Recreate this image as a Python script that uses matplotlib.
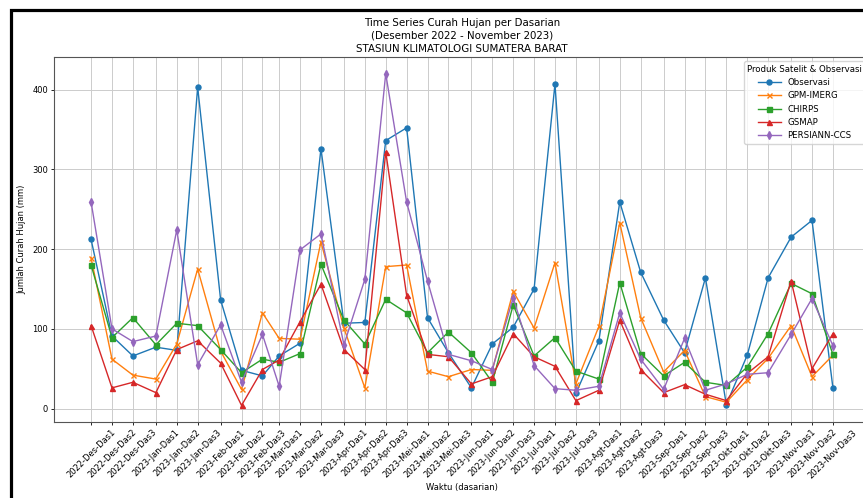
import datetime as dt
import matplotlib
matplotlib.use("Agg")
import matplotlib.pyplot as plt
import matplotlib.patches as mpatches

# kategori waktu (dasarian)
bulan = ["Des", "Jan", "Feb", "Mar", "Apr", "Mei", "Jun", "Jul", "Agt", "Sep", "Okt", "Nov"]
nomor_bulan = [12, 1, 2, 3, 4, 5, 6, 7, 8, 9, 10, 11]
tahun = [2022] + [2023] * 11
hari_dasarian = [1, 11, 21]

# curah hujan (mm)
observasi = [212, 91, 66, 77, 73, 403, 136, 48, 41, 66, 82, 326,
             107, 108, 336, 352, 114, 70, 26, 81, 102, 150, 407, 19,
             85, 259, 171, 111, 70, 164, 5, 67, 164, 215, 236, 26]
gpm_imerg = [189, 62, 42, 37, 81, 175, 72, 24, 120, 88, 87, 209,
             101, 26, 178, 180, 47, 40, 49, 48, 147, 101, 183, 31,
             103, 233, 114, 46, 73, 15, 8, 36, 63, 104, 40, 67]
chirps = [180, 89, 114, 80, 107, 104, 74, 45, 62, 58, 69, 181,
          111, 81, 137, 120, 70, 96, 70, 33, 130, 66, 89, 47,
          37, 158, 69, 41, 58, 33, 29, 52, 94, 157, 144, 68]
gsmap = [104, 26, 33, 20, 74, 85, 57, 4, 49, 61, 109, 156,
         74, 49, 322, 142, 68, 65, 31, 40, 94, 65, 53, 10,
         23, 111, 49, 20, 30, 18, 10, 44, 65, 160, 50, 94]
persiann = [259, 100, 84, 91, 224, 55, 105, 33, 93, 28, 199, 219,
            80, 162, 420, 259, 160, 68, 60, 49, 139, 54, 25, 23,
            28, 120, 62, 24, 88, 23, 31, 43, 45, 93, 138, 79]

tanggal = []
label = []
for th, nb, b in zip(tahun, nomor_bulan, bulan):
    for i, d in enumerate(hari_dasarian):
        tanggal.append(dt.datetime(th, nb, d))
        label.append(f"{th}-{b}-Das{i + 1}")

fig = plt.figure(figsize=(8.63, 4.98), dpi=100)
ax = fig.add_axes([54 / 863, 76 / 498, 816 / 863, 365 / 498])

seri = [
    ("Observasi", observasi, "o"),
    ("GPM-IMERG", gpm_imerg, "x"),
    ("CHIRPS", chirps, "s"),
    ("GSMAP", gsmap, "^"),
    ("PERSIANN-CCS", persiann, "d"),
]
for nama, nilai, mk in seri:
    ax.plot(tanggal, nilai, marker=mk, label=nama, linewidth=1.0, markersize=3.6)

ax.set_xticks(tanggal)
ax.set_xticklabels(label, rotation=45, fontsize=6)
ax.tick_params(axis="y", labelsize=6)
ax.tick_params(length=2.2, width=0.6, pad=2)
ax.grid(True, color="#cccccc", linewidth=0.7)
ax.set_axisbelow(True)
for s in ax.spines.values():
    s.set_color("#555555")
    s.set_linewidth(0.8)

ax.set_xlabel("Waktu (dasarian)", fontsize=6, labelpad=2)
ax.set_ylabel("Jumlah Curah Hujan (mm)", fontsize=6, labelpad=4)
ax.set_title("Time Series Curah Hujan per Dasarian\n(Desember 2022 - November 2023)\n"
             "STASIUN KLIMATOLOGI SUMATERA BARAT", fontsize=7.4, pad=3.5,
             linespacing=1.4)

ax.legend(title="Produk Satelit & Observasi", loc="upper right", fontsize=6.2,
          title_fontsize=6.2, handlelength=2.6, borderaxespad=0.5)

# bingkai hitam hasil tangkapan layar
fig.patches.append(mpatches.Rectangle((11 / 863, -0.1), 1.2, 1.1 - 10 / 498,
                                      transform=fig.transFigure, fill=False,
                                      edgecolor="black", linewidth=2.3))

fig.savefig("out.png", dpi=100)
